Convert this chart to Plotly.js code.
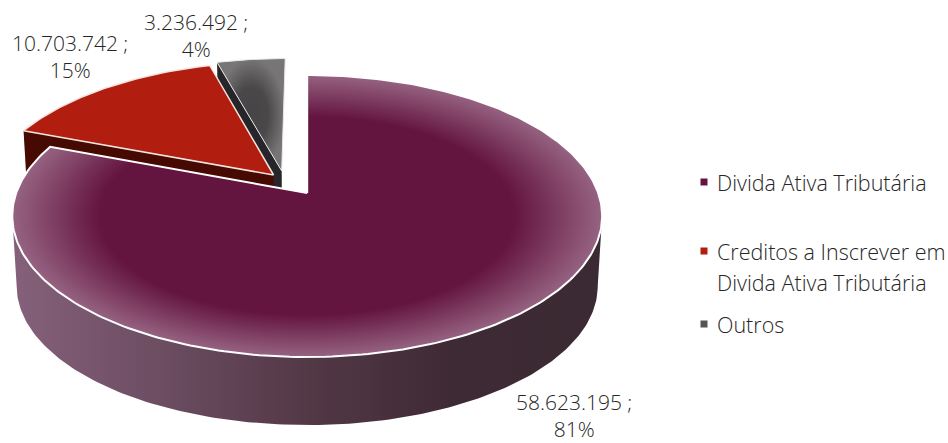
<!DOCTYPE html>
<html><head><meta charset="utf-8">
<script src="https://cdn.plot.ly/plotly-3.0.1.min.js"></script>
<style>html,body{margin:0;padding:0;background:#fff}</style></head>
<body><div id="chart" style="width:948px;height:443px"></div>
<script>
const categories = ["Divida Ativa Tributária", "Creditos a Inscrever em<br>Divida Ativa Tributária", "Outros"];
const values = [58623195, 10703742, 3236492];

const FONT = '"Open Sans", sans-serif', TXT = '#262626';
const cx = 307.2, cy = 193, A = 291, B = 137.3, K = 0.163;   // perspective of the pie's top face
const sideY = 263.5, sideS = 0.985;                           // bottom face
const offsets = [[0, 0], [-0.118, 0.134], [-0.09, 0.165]];    // explosion of each slice
const topPt = (u, v) => [cx + A * u / (1 + K * v), cy - B * v / (1 + K * v)];
const botPt = (u, v) => { const p = topPt(u, v); return [cx + sideS * (p[0] - cx), sideY + sideS * (p[1] - cy)]; };

const total = values.reduce((a, b) => a + b, 0);
let acc = 0;
const spans = values.map(v => { const s = acc / total * 360; acc += v; return [s, acc / total * 360]; });
const pol = (deg, off) => { const r = deg * Math.PI / 180; return [Math.sin(r) + off[0], Math.cos(r) + off[1]]; };
const arc = (a0, a1, off, fn) => {
  const pts = [], n = Math.max(2, Math.ceil(Math.abs(a1 - a0)));
  for (let i = 0; i <= n; i++) { const q = pol(a0 + (a1 - a0) * i / n, off); pts.push(fn(q[0], q[1])); }
  return pts;
};
const poly = (pts, style) => Object.assign({
  x: pts.map(p => p[0]), y: pts.map(p => p[1]), type: 'scatter', mode: 'lines', fill: 'toself',
  hoverinfo: 'skip', showlegend: false, line: {width: 0}
}, style);

function wedge(i) {
  const o = offsets[i], s = spans[i];
  return [topPt(o[0], o[1])].concat(arc(s[0], s[1], o, topPt)).concat([topPt(o[0], o[1])]);
}
function cutFace(i, deg) {
  const o = offsets[i], q = pol(deg, o);
  return [topPt(o[0], o[1]), topPt(q[0], q[1]), botPt(q[0], q[1]), botPt(o[0], o[1])];
}
const sil = Math.acos(-K) * 180 / Math.PI;
const mainSide = arc(sil, 360 - sil, offsets[0], topPt).concat(arc(360 - sil, sil, offsets[0], botPt));

const traces = [
  poly(cutFace(2, spans[2][0]), {fillcolor: '#26262a'}),
  poly(cutFace(1, spans[1][0]), {fillcolor: '#470a02'}),
  poly(mainSide, {fillgradient: {type: 'horizontal', start: 14, stop: 600,
    colorscale: [[0, '#85607a'], [0.25, '#6c4d62'], [0.5, '#533846'], [0.75, '#3e2a34'], [1, '#3b2a33']]}}),
  poly(wedge(0), {line: {color: '#ffffff', width: 2}, fillgradient: {type: 'radial',
    colorscale: [[0, '#63143f'], [0.7, '#63143f'], [1, '#966382']]}}),
  poly(wedge(1), {fillcolor: '#b11d0f', line: {color: '#f4e4e0', width: 1.5}}),
  poly(wedge(2), {line: {color: '#e8e8e8', width: 1}, fillgradient: {type: 'radial',
    colorscale: [[0, '#464446'], [0.5, '#4a4849'], [1, '#777576']]}})
];

const fmt = n => String(n).replace(/\B(?=(\d{3})+$)/g, '.') + ' ;';
const pct = n => Math.round(n / total * 100) + '%';
const text = (x, y, t, anchor, size) => ({x, y, text: t, xref: 'x', yref: 'y', showarrow: false,
  xanchor: anchor || 'center', yanchor: 'middle', font: {family: FONT, size: size || 21.5, color: TXT, weight: 300}});

const labelPos = [[574, 415], [70, 56], [196, 35]];
const annotations = [];
values.forEach((v, i) => {
  annotations.push(text(labelPos[i][0], labelPos[i][1], fmt(v) + '<br>' + pct(v), 'center', 21));
});
const legendRows = [[[182, categories[0]]], [[251, categories[1].split('<br>')[0]], [282, categories[1].split('<br>')[1]]], [[324, categories[2]]]];
legendRows.forEach(r => r.forEach(l => annotations.push(text(715, l[0], l[1], 'left'))));

traces.push({x: [704, 704, 704], y: [182, 251, 324], type: 'scatter', mode: 'markers', hoverinfo: 'skip', showlegend: false,
  marker: {symbol: 'square', size: 7, color: ['#63143f', '#b11d0f', '#555355']}});

Plotly.newPlot('chart', traces, {
  width: 948, height: 443, margin: {l: 0, r: 0, t: 0, b: 0}, showlegend: false,
  paper_bgcolor: '#fff', plot_bgcolor: '#fff',
  xaxis: {range: [0, 948], visible: false, fixedrange: true},
  yaxis: {range: [443, 0], visible: false, fixedrange: true},
  annotations
}, {displayModeBar: false, staticPlot: true});
</script></body></html>
